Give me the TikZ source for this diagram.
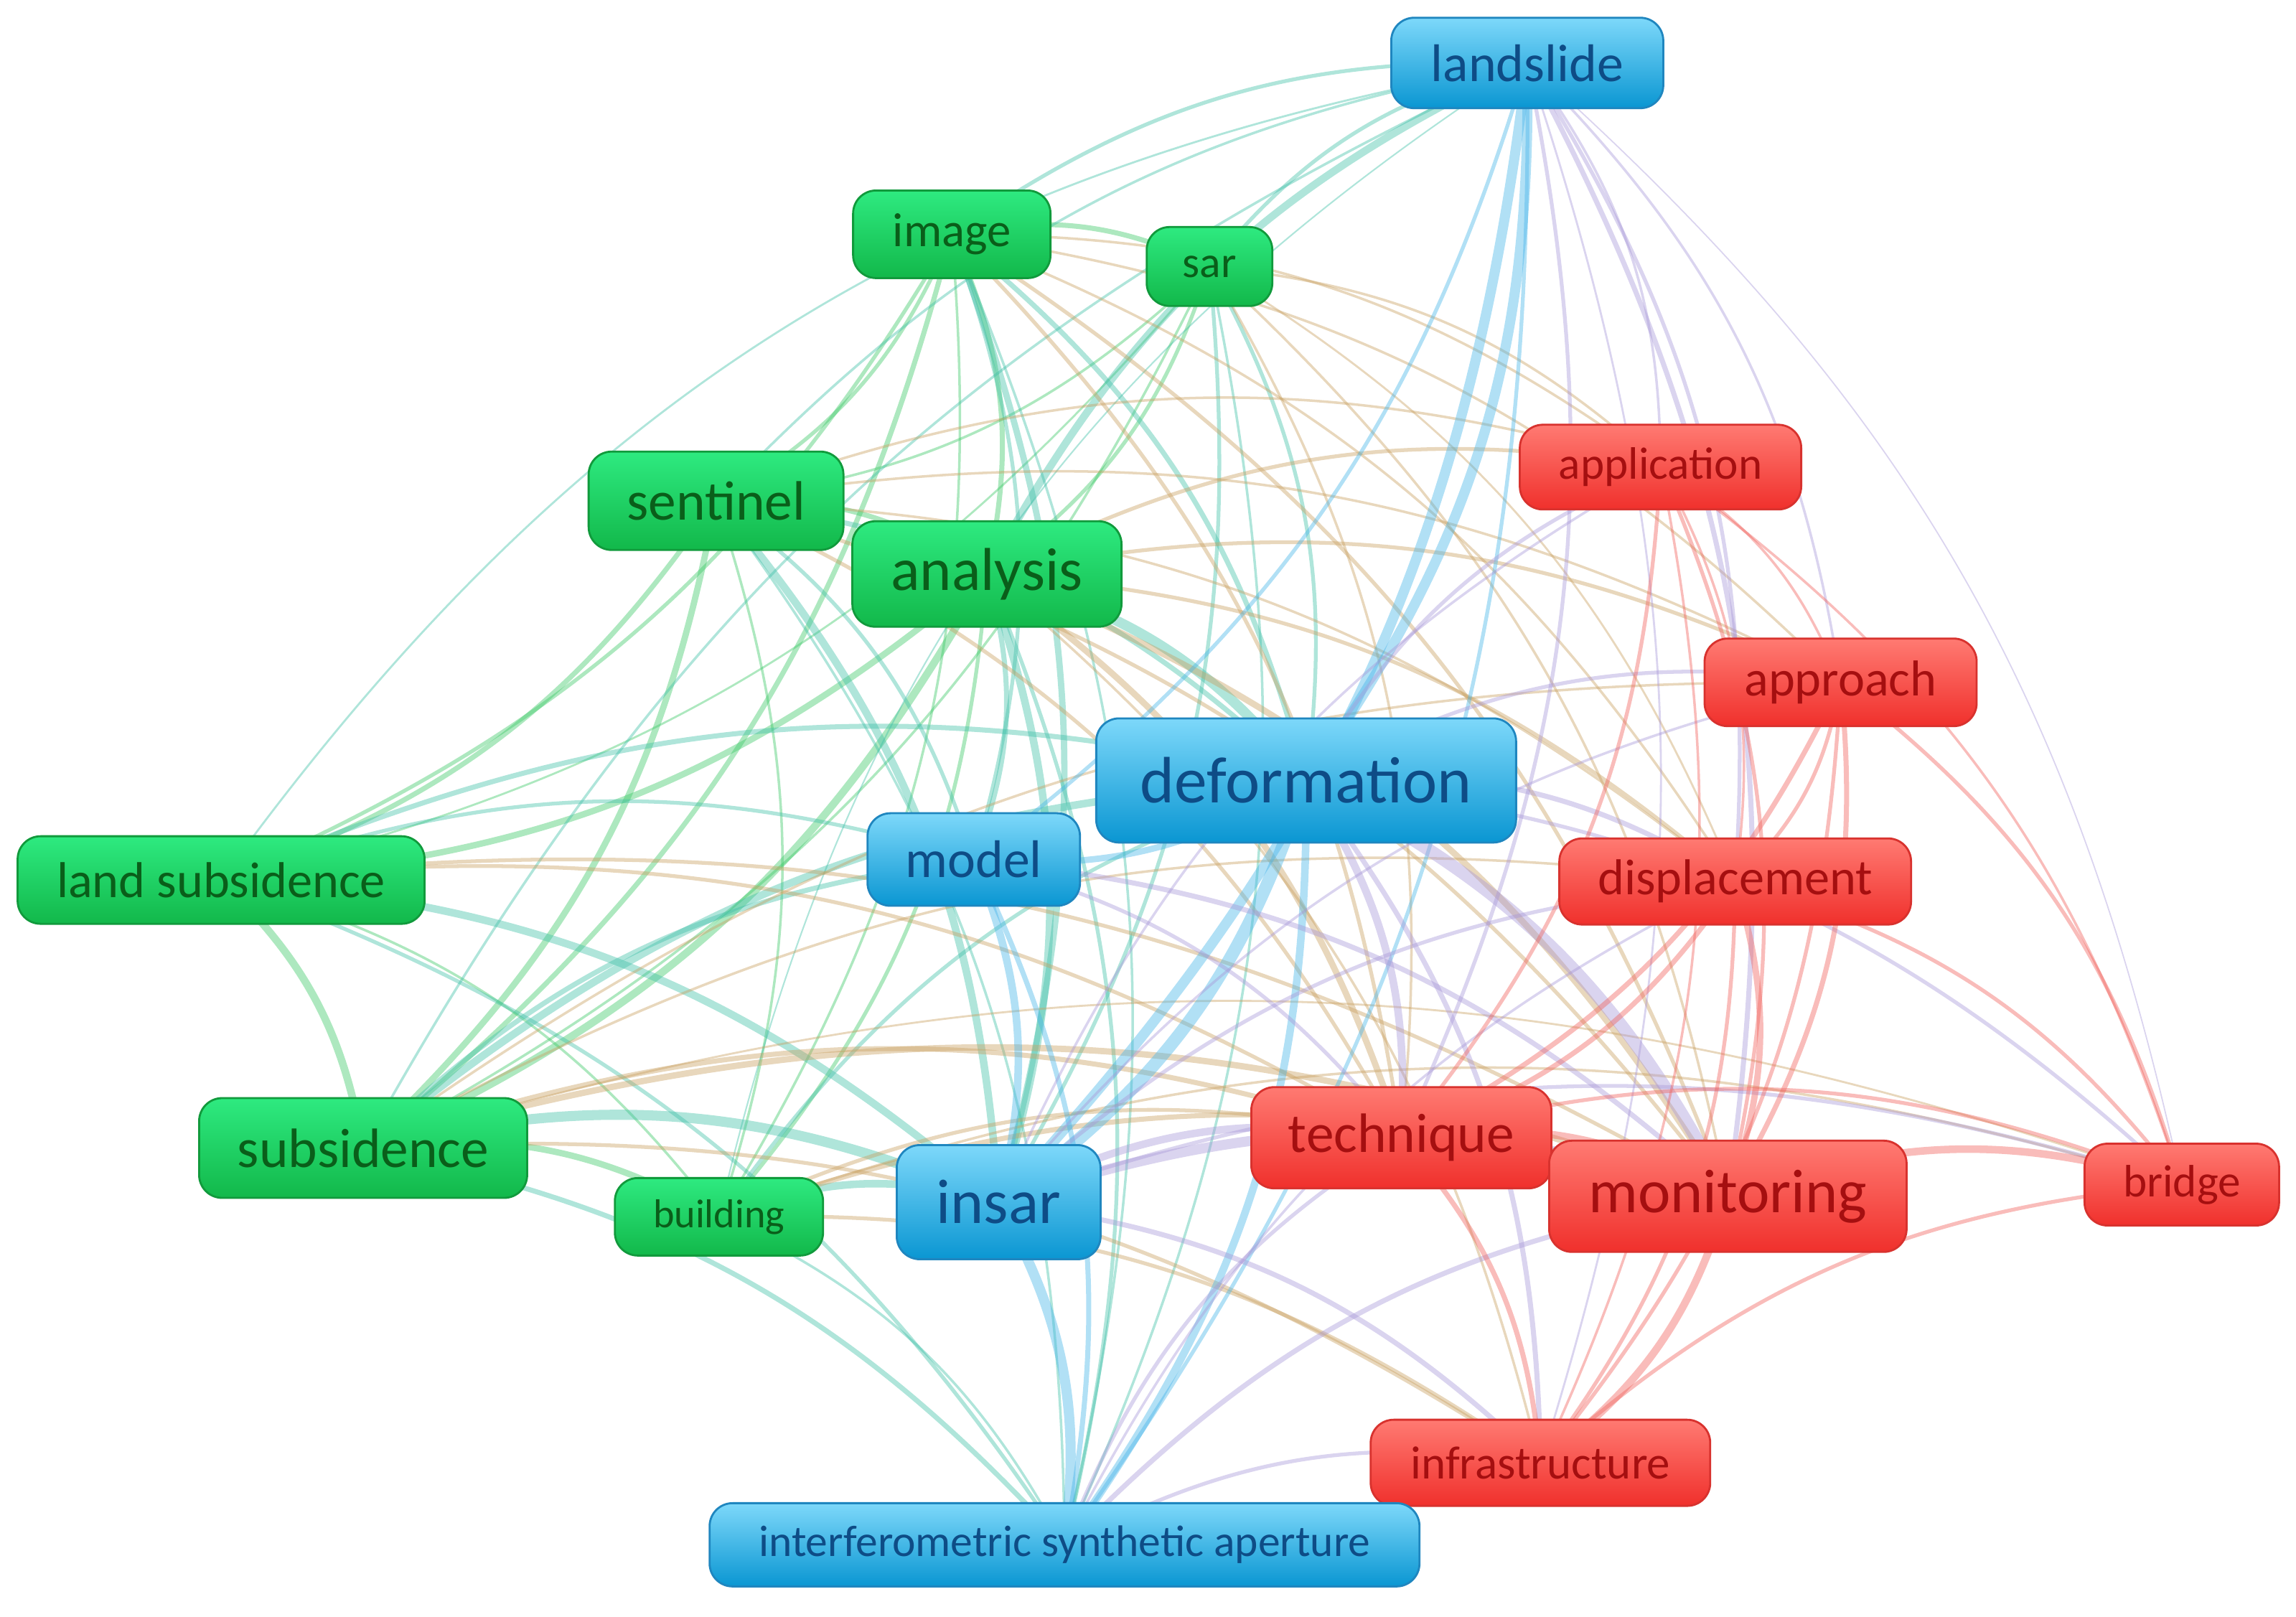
\documentclass[tikz,border=0pt]{standalone}
\usepackage{fontspec}
\setmainfont{Carlito}
\pgfdeclarelayer{background}
\pgfsetlayers{background,main}
\definecolor{bTop}{HTML}{7DD8FA}
\definecolor{bBot}{HTML}{0A96D2}
\definecolor{bLine}{HTML}{1F86BF}
\definecolor{bText}{HTML}{0E4C86}
\definecolor{gTop}{HTML}{2EEA80}
\definecolor{gBot}{HTML}{12B84A}
\definecolor{gLine}{HTML}{119A3C}
\definecolor{gText}{HTML}{0A5E1A}
\definecolor{rTop}{HTML}{FF7A72}
\definecolor{rBot}{HTML}{F0302C}
\definecolor{rLine}{HTML}{D8322E}
\definecolor{rText}{HTML}{A50F10}
\definecolor{eGG}{HTML}{3CC866}
\definecolor{eBB}{HTML}{45B4E8}
\definecolor{eRR}{HTML}{F0605A}
\definecolor{eGB}{HTML}{40C0A8}
\definecolor{eGR}{HTML}{C8A060}
\definecolor{eBR}{HTML}{A898D8}
\tikzset{
  kw/.style={rounded corners=0.32cm, inner sep=0pt, line width=0.8pt, align=center},
  bluekw/.style={kw, top color=bTop, bottom color=bBot, draw=bLine, text=bText},
  greenkw/.style={kw, top color=gTop, bottom color=gBot, draw=gLine, text=gText},
  redkw/.style={kw, top color=rTop, bottom color=rBot, draw=rLine, text=rText},
  edge/.style={draw=#1, draw opacity=0.42, line cap=round},
}
\newcommand{\fsz}[1]{\fontsize{#1}{#1}\selectfont}
\begin{document}
\begin{tikzpicture}[x=0.0204cm, y=-0.0204cm]
\useasboundingbox (0,0) rectangle (1568,1104);
% nodes
\node[bluekw, minimum width=3.79cm, minimum height=1.26cm, font=\fsz{21}] (ls) at (1043,43) {landslide};
\node[greenkw, minimum width=2.75cm, minimum height=1.22cm, font=\fsz{19}] (img) at (650,160) {image};
\node[greenkw, minimum width=1.75cm, minimum height=1.10cm, font=\fsz{17.5}] (sar) at (826,182) {sar};
\node[greenkw, minimum width=3.55cm, minimum height=1.37cm, font=\fsz{22}] (sen) at (489,342) {sentinel};
\node[greenkw, minimum width=3.75cm, minimum height=1.47cm, font=\fsz{24}] (ana) at (674,392) {analysis};
\node[redkw, minimum width=3.92cm, minimum height=1.18cm, font=\fsz{18}] (app) at (1134,319) {application};
\node[redkw, minimum width=3.79cm, minimum height=1.22cm, font=\fsz{20}] (apr) at (1257,466) {approach};
\node[bluekw, minimum width=5.85cm, minimum height=1.73cm, font=\fsz{26}] (def) at (892,533) {deformation};
\node[bluekw, minimum width=2.96cm, minimum height=1.29cm, font=\fsz{21}] (mod) at (665,587) {model};
\node[greenkw, minimum width=5.67cm, minimum height=1.22cm, font=\fsz{20}] (lsub) at (151,601) {land subsidence};
\node[redkw, minimum width=4.90cm, minimum height=1.20cm, font=\fsz{20}] (dis) at (1185,602) {displacement};
\node[greenkw, minimum width=4.57cm, minimum height=1.39cm, font=\fsz{22}] (sub) at (248,784) {subsidence};
\node[redkw, minimum width=4.18cm, minimum height=1.41cm, font=\fsz{22}] (tec) at (957,777) {technique};
\node[redkw, minimum width=4.98cm, minimum height=1.55cm, font=\fsz{24.5}] (mon) at (1180,817) {monitoring};
\node[redkw, minimum width=2.71cm, minimum height=1.14cm, font=\fsz{18}] (bri) at (1490,809) {bridge};
\node[greenkw, minimum width=2.90cm, minimum height=1.08cm, font=\fsz{16}] (bld) at (491,831) {building};
\node[bluekw, minimum width=2.84cm, minimum height=1.59cm, font=\fsz{25}] (ins) at (682,821) {insar};
\node[redkw, minimum width=4.73cm, minimum height=1.20cm, font=\fsz{18.5}] (inf) at (1052,999) {infrastructure};
\node[bluekw, minimum width=9.89cm, minimum height=1.16cm, font=\fsz{17.5}] (isa) at (727,1055) {interferometric synthetic aperture};
% edges
\begin{pgfonlayer}{background}
% green-green
\foreach \a/\b/\w in {img/sar/2, img/sen/1.5, img/ana/2, img/lsub/1.5, img/sub/2, img/bld/1,
  sar/sen/1, sar/ana/1.5, sar/sub/1, sar/lsub/0.8, sen/ana/2, sen/lsub/2, sen/sub/2.5, sen/bld/1,
  ana/lsub/2.5, ana/sub/3, ana/bld/1.5, lsub/sub/3, lsub/bld/1, sub/bld/2.5}
  \draw[edge=eGG, line width=\w pt] (\a.center) to[bend left=18] (\b.center);
% green-blue
\foreach \a/\b/\w in {img/def/2, img/ins/2.5, img/mod/1.5, img/ls/1.5, img/isa/1,
  sar/def/1.5, sar/ins/1.5, sar/ls/1.5, sar/isa/1,
  sen/def/2, sen/ins/3, sen/mod/1.5, sen/ls/1, sen/isa/1,
  ana/def/4, ana/ins/3, ana/mod/2, ana/ls/3, ana/isa/1.5,
  lsub/ins/3, lsub/def/2, lsub/mod/1.5, lsub/isa/1.5,
  sub/ins/4, sub/def/3, sub/mod/2, sub/isa/2, sub/ls/1,
  bld/ins/3, bld/def/1.5, bld/isa/1}
  \draw[edge=eGB, line width=\w pt] (\a.center) to[bend left=18] (\b.center);
\foreach \a/\b/\w in {ls/lsub/0.8, ls/bld/0.6}
  \draw[edge=eGB, line width=\w pt] (\a.center) to[bend right=22] (\b.center);
% green-red
\foreach \a/\b/\w in {img/tec/1.5, img/mon/1.5, img/app/1, img/apr/1, img/dis/1,
  sar/tec/1, sar/mon/1, sar/app/1, sar/dis/0.8,
  sen/tec/1.5, sen/mon/1.5, sen/app/1, sen/apr/1, sen/dis/1,
  ana/tec/2.5, ana/mon/2.5, ana/app/1.5, ana/apr/1.5, ana/dis/1.5, ana/inf/1,
  lsub/tec/1.5, lsub/mon/1.5,
  sub/tec/2, sub/mon/2.5, sub/inf/1.5, sub/dis/1, sub/apr/1, sub/bri/0.8,
  bld/tec/1.5, bld/mon/2, bld/inf/1.5, bld/bri/1}
  \draw[edge=eGR, line width=\w pt] (\a.center) to[bend left=18] (\b.center);
% blue-blue
\foreach \a/\b/\w in {ls/def/4, ls/ins/4, ls/mod/1.5, ls/isa/1.5,
  def/ins/5, def/mod/2.5, def/isa/3, mod/ins/3, mod/isa/2, ins/isa/4}
  \draw[edge=eBB, line width=\w pt] (\a.center) to[bend left=18] (\b.center);
% blue-red
\foreach \a/\b/\w in {ls/tec/1.5, ls/mon/2, ls/dis/1.5, ls/app/1, ls/apr/1, ls/bri/0.5, ls/inf/0.8,
  def/tec/3, def/mon/5, def/dis/2, def/app/1.5, def/apr/1.5, def/inf/2, def/bri/1.5,
  mod/tec/1.5, mod/mon/2,
  ins/tec/3, ins/mon/4, ins/inf/2, ins/dis/1.5, ins/apr/1, ins/bri/1.5, ins/app/1,
  isa/tec/1.5, isa/mon/2, isa/inf/1.5, isa/dis/1}
  \draw[edge=eBR, line width=\w pt] (\a.center) to[bend left=18] (\b.center);
% red-red
\foreach \a/\b/\w in {app/apr/1, app/dis/1, app/tec/1.5, app/mon/1.5, app/inf/1, app/bri/1,
  apr/dis/1.5, apr/tec/2, apr/mon/2, apr/inf/1.5, apr/bri/1.5,
  dis/tec/2, dis/mon/2.5, dis/inf/1.5, dis/bri/1.5,
  tec/mon/3, tec/inf/2, tec/bri/1.5, mon/inf/3, mon/bri/3, inf/bri/1.5}
  \draw[edge=eRR, line width=\w pt] (\a.center) to[bend left=18] (\b.center);
\end{pgfonlayer}
\end{tikzpicture}
\end{document}
